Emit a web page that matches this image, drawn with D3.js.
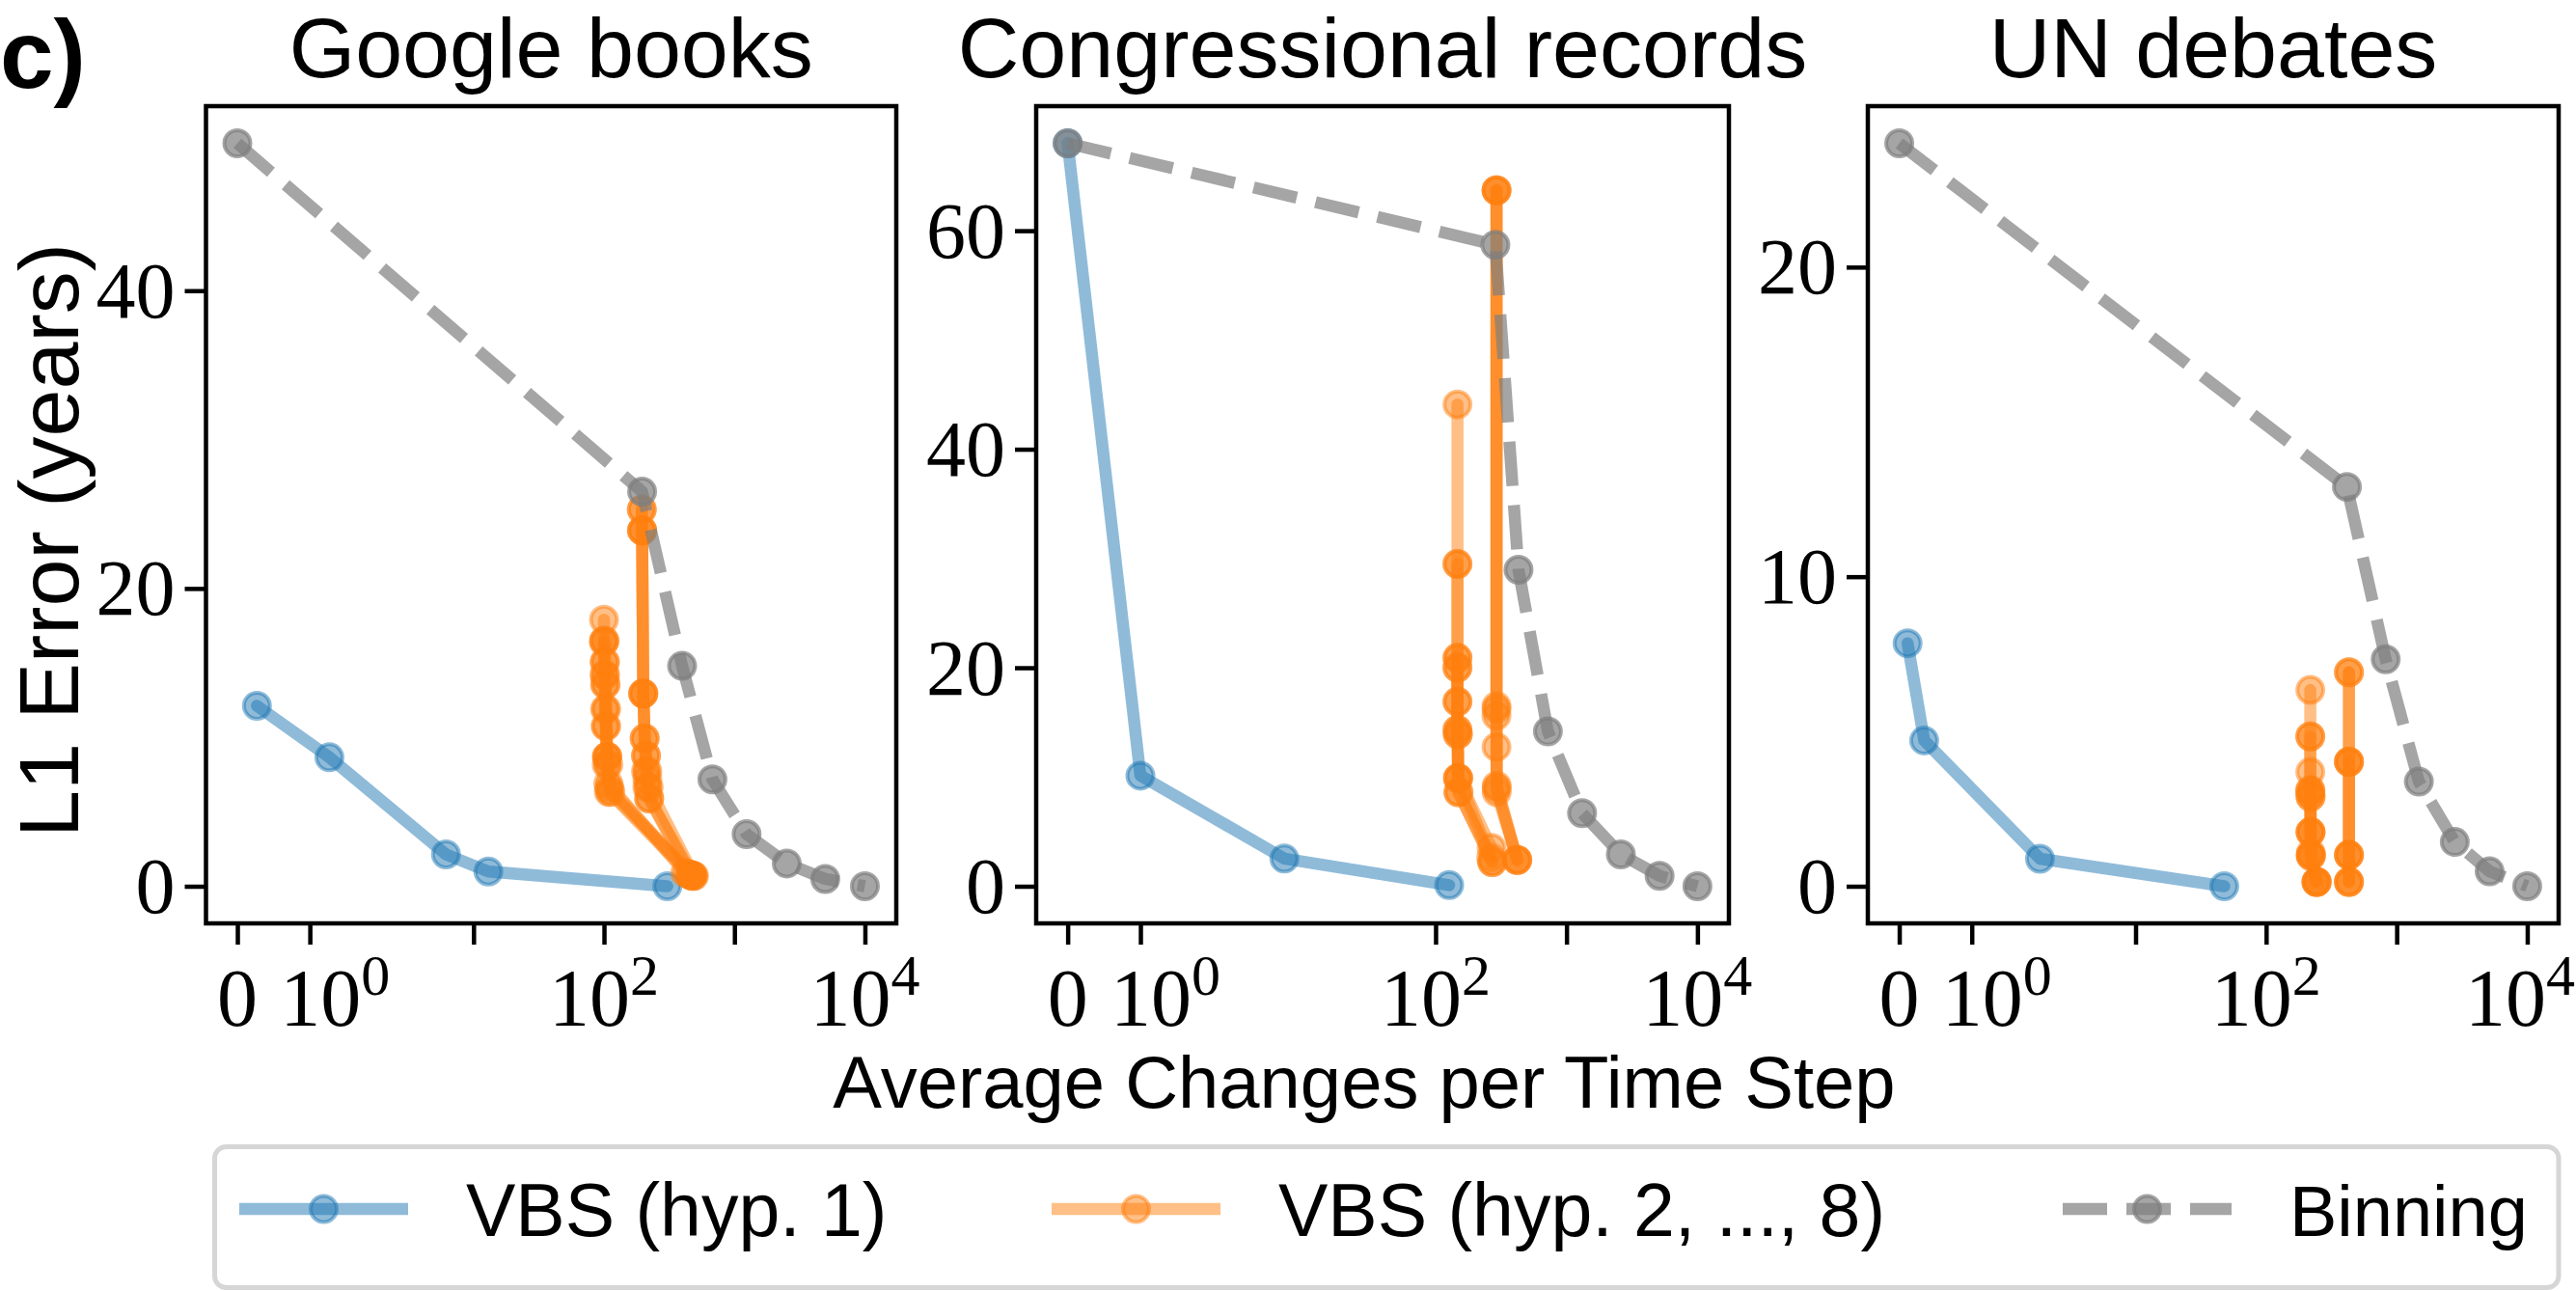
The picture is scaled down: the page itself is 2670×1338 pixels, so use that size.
<!DOCTYPE html>
<html><head><meta charset="utf-8">
<script src="https://cdn.jsdelivr.net/npm/d3@7/dist/d3.min.js"></script>
<style>body{margin:0;background:#fff}</style>
</head><body>
<svg id="chart" width="2670" height="1338"></svg>
<script>
// ---------------- DATA ----------------
const panelTitles = ["Google books", "Congressional records", "UN debates"];
const seriesNames = ["VBS (hyp. 1)", "VBS (hyp. 2, ..., 8)", "Binning"];
const xTickValues = [[0, 1, 10, 100, 1000, 10000], [0, 1, 100, 1000, 10000], [0, 1, 10, 100, 1000, 10000]];
const xTickLabelValues = [0, 1, 100, 10000];
const xTickLabelText = [["0", ""], ["10", "0"], ["10", "2"], ["10", "4"]];
const yTickValues = [[0, 20, 40], [0, 20, 40, 60], [0, 10, 20]];

// VBS (hyp. 1)
const vbs1X = [[0.27, 1.27, 6.15, 13.0, 306], [0, 1.0, 7.0, 127], [0.115, 0.344, 1.94, 47.8]];
const vbs1Y = [[12.12, 8.66, 2.14, 0.99, 0.0], [68.0, 10.12, 2.53, 0.1], [7.85, 4.71, 0.89, 0.0]];

// Binning
const binX = [[0, 196, 397, 678, 1239, 2518, 4966, 10000],
              [0, 286, 430, 721, 1315, 2601, 5141, 10000],
              [0, 416, 824, 1479, 2786, 5152, 10000]];
const binY = [[49.9, 26.5, 14.8, 7.18, 3.5, 1.53, 0.49, 0.0],
              [68.0, 58.7, 28.96, 14.17, 6.69, 2.92, 0.95, 0.0],
              [24.0, 12.9, 7.33, 3.38, 1.43, 0.48, 0.0]];

// VBS (hyp. 2, ..., 8): one line per hyperparameter setting, per panel
const hypX_google = [[100, 100, 101, 102, 104, 106, 108, 420],
                     [100, 101, 102, 103, 105, 109, 450],
                     [101, 102, 104, 106, 110, 470],
                     [102, 103, 105, 108, 112, 480],
                     [195, 196, 200, 205, 210, 215, 222, 480],
                     [195, 196, 200, 210, 215, 222, 460],
                     [196, 200, 205, 210, 215, 220, 490]];
const hypY_google = [[17.9, 16.5, 14.2, 11.9, 10.75, 8.7, 6.9, 0.9],
                     [16.4, 15.06, 13.55, 10.75, 8.17, 6.33, 0.8],
                     [16.5, 14.2, 11.9, 8.7, 6.6, 0.75],
                     [15.06, 13.55, 8.7, 8.17, 6.33, 0.7],
                     [25.3, 23.9, 12.95, 9.93, 8.77, 7.2, 5.9, 0.7],
                     [25.3, 23.9, 12.95, 7.73, 6.65, 5.9, 0.75],
                     [23.9, 12.95, 9.93, 8.77, 7.73, 6.65, 0.7]];
const hypX_congress = [[147, 147, 147, 147, 148, 149, 268],
                       [147, 147, 147, 148, 150, 270],
                       [147, 147, 148, 149, 266],
                       [147, 147, 149, 272],
                       [292, 292, 292, 293, 420],
                       [292, 292, 293, 420],
                       [292, 292, 293, 421]];
const hypY_congress = [[44.1, 29.5, 20.9, 16.9, 13.9, 9.9, 3.5],
                       [29.5, 20.0, 14.3, 9.9, 8.6, 2.2],
                       [20.9, 16.9, 13.9, 8.6, 2.6],
                       [20.0, 14.3, 9.9, 2.2],
                       [63.7, 16.5, 12.75, 9.2, 2.4],
                       [63.7, 15.6, 8.6, 2.4],
                       [63.7, 16.2, 9.0, 2.4]];
const hypX_un = [[218, 218, 218, 219, 219, 220, 244],
                 [218, 218, 219, 220, 244],
                 [218, 219, 220, 242],
                 [218, 219, 220, 244],
                 [431, 431, 431, 431],
                 [431, 431, 431, 431],
                 [431, 431, 431]];
const hypY_un = [[6.34, 4.84, 3.69, 2.89, 1.75, 1.0, 0.14],
                 [4.84, 3.10, 1.75, 1.08, 0.14],
                 [3.10, 2.89, 1.0, 0.14],
                 [3.0, 1.75, 0.97, 0.14],
                 [6.91, 4.02, 1.01, 0.14],
                 [6.91, 4.02, 1.01, 0.14],
                 [4.02, 1.01, 0.14]];
const hypX = [hypX_google, hypX_congress, hypX_un];
const hypY = [hypY_google, hypY_congress, hypY_un];

// ---------------- STYLE / LAYOUT ----------------
const W = 2670, H = 1338;
const colBlue = "#1f77b4", colOrange = "#ff7f0e", colGray = "#7f7f7f";
const alphaBlue = 0.5, alphaOrange = 0.5, alphaGray = 0.7;
const lineW = 12.5, markerR = 13.5, markerEdge = 4;
const axLeft = [213.5, 1074, 1936], axRight = [929, 1792, 2652];
const axTop = 110, axBottom = 957;
const sansFont = "'Liberation Sans', Arial, sans-serif";
const serifFont = "'Liberation Serif', 'Times New Roman', serif";

// matplotlib-style symlog (base 10, linthresh 2, linscale 1), in decades
function symlogT(v) {
  const L = 2, a = 1 / (1 - 1 / 10);
  const s = Math.sign(v), m = Math.abs(v);
  return s * (m <= L ? m * a / L : a + Math.log10(m / L));
}

const svg = d3.select("#chart");
svg.append("rect").attr("width", W).attr("height", H).attr("fill", "#fff");

function drawSeries(g, xs, ys, X, Y, color, alpha, dashed) {
  const pts = X.map((x, i) => [x, Y[i]]);
  const line = d3.line().x(d => xs(symlogT(d[0]))).y(d => ys(d[1]));
  g.append("path").attr("d", line(pts)).attr("fill", "none")
    .attr("stroke", color).attr("stroke-opacity", alpha)
    .attr("stroke-width", lineW)
    .attr("stroke-dasharray", dashed ? "46,20" : null)
    .attr("stroke-linejoin", "round").attr("stroke-linecap", dashed ? "butt" : "round");
  g.selectAll(null).data(pts).enter().append("circle")
    .attr("cx", d => xs(symlogT(d[0]))).attr("cy", d => ys(d[1]))
    .attr("r", markerR)
    .attr("fill", color).attr("fill-opacity", alpha)
    .attr("stroke", color).attr("stroke-opacity", alpha).attr("stroke-width", markerEdge);
}

const tickLabels = [];
panelTitles.forEach((title, p) => {
  const allX = [...vbs1X[p], ...binX[p], ...hypX[p].flat()];
  const allY = [...vbs1Y[p], ...binY[p], ...hypY[p].flat()];
  const t0 = symlogT(d3.min(allX)), t1 = symlogT(d3.max(allX));
  const px = 0.05 * (t1 - t0);
  const xs = d3.scaleLinear().domain([t0 - px, t1 + px]).range([axLeft[p], axRight[p]]);
  const y0 = d3.min(allY), y1 = d3.max(allY), py = 0.05 * (y1 - y0);
  const ys = d3.scaleLinear().domain([y0 - py, y1 + py]).range([axBottom, axTop]);

  const clipId = "clip" + p;
  svg.append("clipPath").attr("id", clipId).append("rect")
    .attr("x", axLeft[p]).attr("y", axTop)
    .attr("width", axRight[p] - axLeft[p]).attr("height", axBottom - axTop);
  const g = svg.append("g").attr("clip-path", `url(#${clipId})`);

  drawSeries(g, xs, ys, vbs1X[p], vbs1Y[p], colBlue, alphaBlue, false);
  hypX[p].forEach((lx, k) => drawSeries(g, xs, ys, lx, hypY[p][k], colOrange, alphaOrange, false));
  drawSeries(g, xs, ys, binX[p], binY[p], colGray, alphaGray, true);

  // spines
  svg.append("rect").attr("x", axLeft[p]).attr("y", axTop)
    .attr("width", axRight[p] - axLeft[p]).attr("height", axBottom - axTop)
    .attr("fill", "none").attr("stroke", "#000").attr("stroke-width", 4.5);

  // y axis
  const yAxis = d3.axisLeft(ys).tickValues(yTickValues[p]).tickSize(22).tickPadding(10).tickFormat(d3.format("d"));
  const ga = svg.append("g").attr("transform", `translate(${axLeft[p]},0)`).call(yAxis);
  ga.select(".domain").remove();
  ga.selectAll(".tick line").attr("stroke", "#000").attr("stroke-width", 4.5);
  ga.selectAll(".tick text").attr("font-family", serifFont).attr("font-size", 82).attr("fill", "#000").attr("dy", "0.33em");

  // x axis (symlog ticks)
  const xAxis = d3.axisBottom(d3.scaleLinear().domain(xs.domain()).range(xs.range()))
    .tickValues(xTickValues[p].map(symlogT)).tickSize(22).tickFormat("");
  const gx = svg.append("g").attr("transform", `translate(0,${axBottom})`).call(xAxis);
  gx.select(".domain").remove();
  gx.selectAll(".tick line").attr("stroke", "#000").attr("stroke-width", 4.5);
  xTickLabelValues.forEach((v, i) => {
    const t = svg.append("text").attr("x", xs(symlogT(v)) + (v === 1 ? 26 : 0)).attr("y", 1063)
      .attr("text-anchor", "middle").attr("font-family", serifFont).attr("font-size", 84).attr("fill", "#000");
    t.append("tspan").text(xTickLabelText[i][0]);
    if (xTickLabelText[i][1]) t.append("tspan").attr("font-size", 60).attr("dy", -32).text(xTickLabelText[i][1]);
    tickLabels.push(t);
  });

  // title
  svg.append("text").attr("x", (axLeft[p] + axRight[p]) / 2).attr("y", 80)
    .attr("text-anchor", "middle").attr("font-family", sansFont).attr("font-size", 88).attr("fill", "#000").text(title);
});

// keep tick labels inside the canvas
tickLabels.forEach(t => {
  const b = t.node().getBBox();
  if (b.x + b.width > W - 1) t.attr("x", +t.attr("x") - (b.x + b.width - (W - 1)));
});

// panel letter
svg.append("text").attr("x", 0).attr("y", 91).attr("font-family", sansFont).attr("font-weight", "bold")
  .attr("font-size", 100).attr("fill", "#000").text("c)");

// y label
svg.append("text").attr("transform", "translate(81,560) rotate(-90)").attr("text-anchor", "middle")
  .attr("font-family", sansFont).attr("font-size", 88).attr("fill", "#000").text("L1 Error (years)");

// x label
svg.append("text").attr("x", 1414).attr("y", 1148).attr("text-anchor", "middle")
  .attr("font-family", sansFont).attr("font-size", 76).attr("fill", "#000").text("Average Changes per Time Step");

// legend
const lg = svg.append("g");
lg.append("rect").attr("x", 222.5).attr("y", 1188.5).attr("width", 2652 - 222.5).attr("height", 1334.5 - 1188.5)
  .attr("rx", 12).attr("fill", "#fff").attr("stroke", "#d6d6d6").attr("stroke-width", 5);
const legX = [248, 1090, 2138];
const legColors = [colBlue, colOrange, colGray];
const legAlpha = [alphaBlue, alphaOrange, alphaGray];
seriesNames.forEach((name, i) => {
  const x0 = legX[i], yc = 1253, hl = 175;
  lg.append("line").attr("x1", x0).attr("x2", x0 + hl).attr("y1", yc).attr("y2", yc)
    .attr("stroke", legColors[i]).attr("stroke-opacity", legAlpha[i]).attr("stroke-width", lineW)
    .attr("stroke-dasharray", i === 2 ? "46,20" : null);
  lg.append("circle").attr("cx", x0 + hl / 2).attr("cy", yc).attr("r", markerR)
    .attr("fill", legColors[i]).attr("fill-opacity", legAlpha[i])
    .attr("stroke", legColors[i]).attr("stroke-opacity", legAlpha[i]).attr("stroke-width", markerEdge);
  lg.append("text").attr("x", x0 + hl + 60).attr("y", 1281).attr("font-family", sansFont)
    .attr("font-size", i === 2 ? 74 : 77).attr("fill", "#000").text(name);
});
</script>
</body></html>
